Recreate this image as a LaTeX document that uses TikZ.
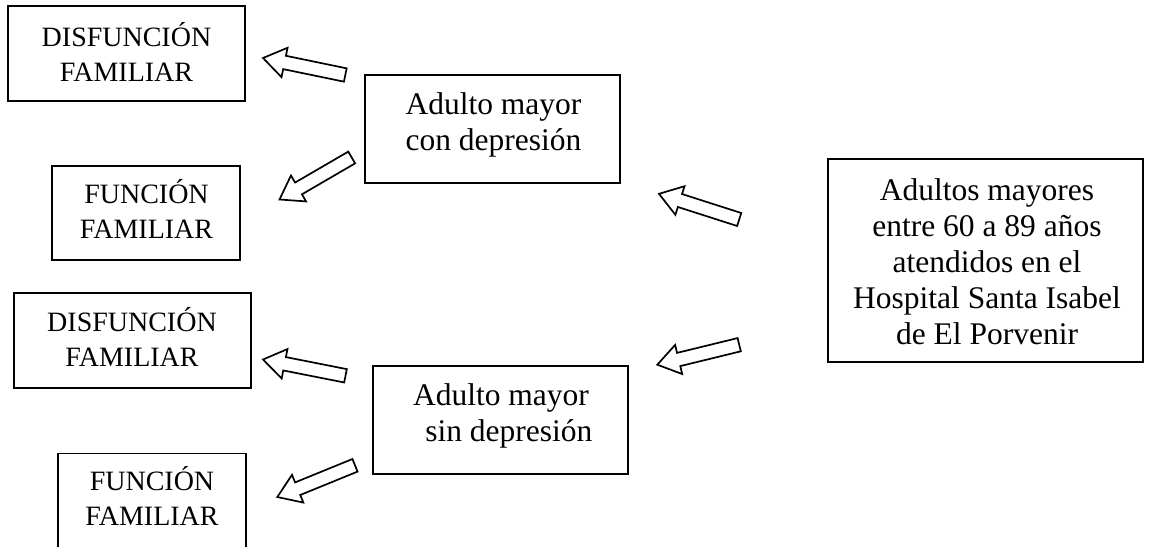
\documentclass[tikz,border=0pt]{standalone}
\usepackage{fontspec}
\setmainfont{Liberation Serif}
\usetikzlibrary{calc}
\tikzset{
  boxnode/.style={draw, line width=1.8pt, inner sep=0pt},
  smalltxt/.style={anchor=base, inner sep=0pt, font=\fontsize{28}{35}\selectfont},
  bigtxt/.style={anchor=base, inner sep=0pt, font=\fontsize{31.5}{36}\selectfont},
  arrowline/.style={draw, line width=1.7pt, line join=miter, fill=white}
}
\newcommand\blockarr[2]{% #1 = tail coordinate, #2 = tip coordinate
  \coordinate (#1-hb) at ($(#2)!22pt!(#1)$);
  \draw[arrowline] ($(#1)!6.8pt!90:(#2)$) -- ($(#1-hb)!6.8pt!90:(#2)$)
    -- ($(#1-hb)!15pt!90:(#2)$) -- (#2)
    -- ($(#1-hb)!15pt!-90:(#2)$) -- ($(#1-hb)!6.8pt!-90:(#2)$)
    -- ($(#1)!6.8pt!-90:(#2)$) -- cycle;
}
\newcommand\lines[1]{\begin{tabular}[t]{@{}c@{}}#1\end{tabular}}
\begin{document}
\begin{tikzpicture}[x=1pt, y=-1pt]
\useasboundingbox (0,0) rectangle (1150,546);
\clip (0,0) rectangle (1150,546);

% boxes
\node[boxnode, minimum width=237, minimum height=95] (d1) at (126.5,53.5) {};
\node[boxnode, minimum width=188, minimum height=94] (f1) at (146,213) {};
\node[boxnode, minimum width=237, minimum height=95] (d2) at (132.5,340.5) {};
\node[boxnode, minimum width=188, minimum height=94] (f2) at (152,500.5) {};
\node[boxnode, minimum width=255, minimum height=108] (con) at (492.5,129) {};
\node[boxnode, minimum width=255, minimum height=108] (sin) at (500.5,420) {};
\node[boxnode, minimum width=315, minimum height=203] (big) at (985.5,260.5) {};

% texts
\node[smalltxt] (d1t) at (126.5,46) {\lines{DISFUNCIÓN\\FAMILIAR}};
\node[smalltxt] (f1t) at (146.5,203.3) {\lines{FUNCIÓN\\FAMILIAR}};
\node[smalltxt] (d2t) at (132,331) {\lines{DISFUNCIÓN\\FAMILIAR}};
\node[smalltxt] (f2t) at (152,490) {\lines{FUNCIÓN\\FAMILIAR}};
\node[bigtxt] (cont) at (493.5,114) {\lines{Adulto mayor\\con depresión}};
\node[bigtxt] (sint) at (501,405) {\lines{Adulto mayor\\\hphantom{x}sin depresión}};
\node[bigtxt] (bigt) at (987,200) {\lines{Adultos mayores\\entre 60 a 89 años\\atendidos en el\\Hospital Santa Isabel\\de El Porvenir}};

% block arrows
\coordinate (a1) at (345.3,75);   \coordinate (a1p) at (263,58);
\coordinate (a2) at (351.7,157.5); \coordinate (a2p) at (279.5,199.5);
\coordinate (a3) at (345.5,375.8); \coordinate (a3p) at (263,359.5);
\coordinate (a4) at (355,465.3);  \coordinate (a4p) at (277.3,497);
\coordinate (a5) at (739.2,219.5); \coordinate (a5p) at (659,193.8);
\coordinate (a6) at (739.2,344.7); \coordinate (a6p) at (657.3,364.7);
\blockarr{a1}{a1p}
\blockarr{a2}{a2p}
\blockarr{a3}{a3p}
\blockarr{a4}{a4p}
\blockarr{a5}{a5p}
\blockarr{a6}{a6p}
\end{tikzpicture}
\end{document}
